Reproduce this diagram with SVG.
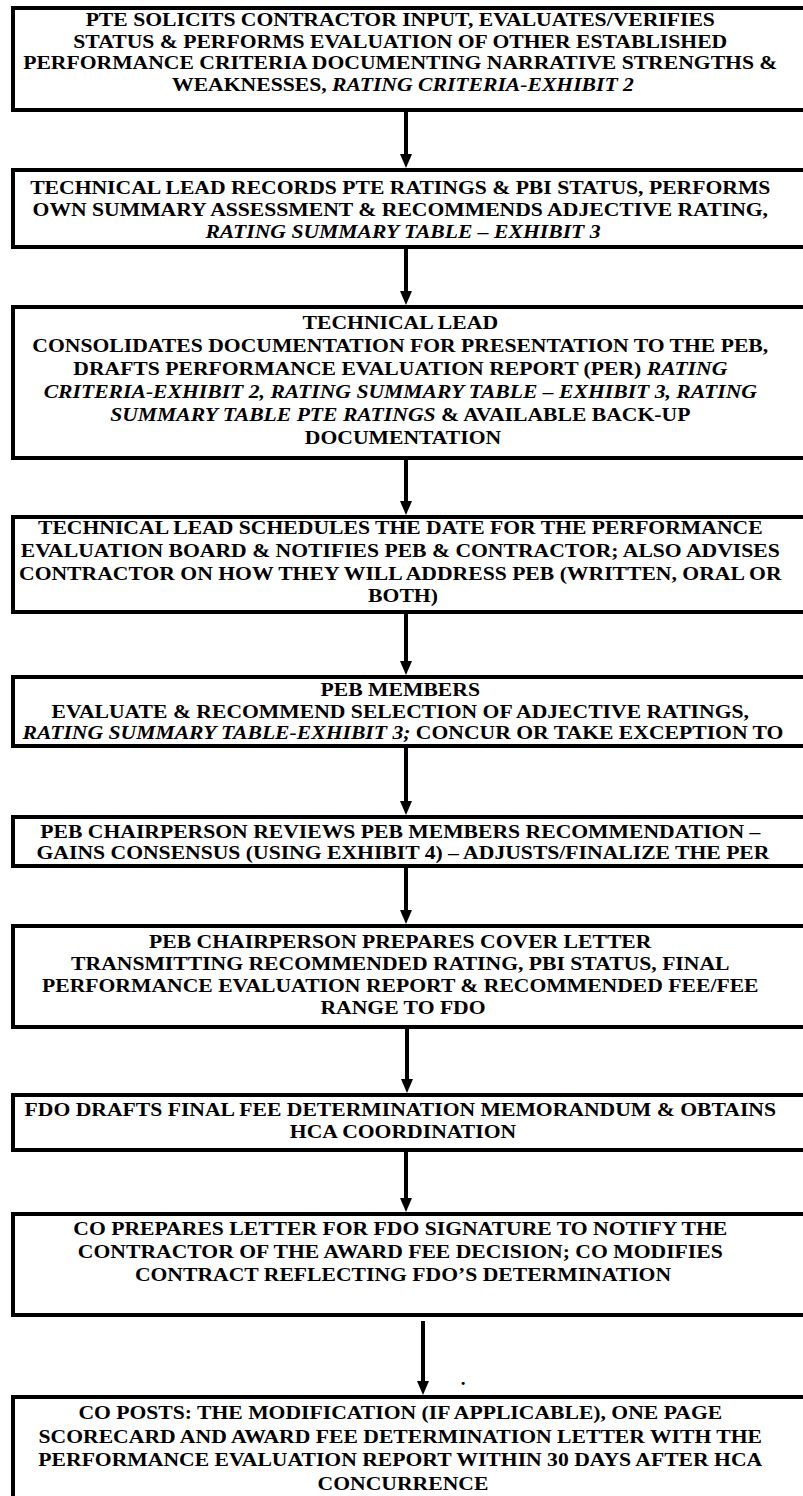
<svg xmlns="http://www.w3.org/2000/svg" width="803" height="1496" viewBox="0 0 803 1496">
<style>
.box{fill:#fff;stroke:#000;stroke-width:4}
.t{font-family:"Liberation Serif","Times New Roman",serif;font-weight:bold;font-size:19px;text-anchor:middle;fill:#000}
.i{font-style:italic}
.c line{stroke:#000;stroke-width:4}
</style>
<defs>
<marker id="ah" markerUnits="userSpaceOnUse" markerWidth="14" markerHeight="12" viewBox="0 0 14 12" refX="0" refY="6" orient="auto">
<path d="M0,0 L14,6 L0,12 z" fill="#000"/>
</marker>
</defs>
<rect width="803" height="1496" fill="#fff"/>
<g id="connectors" class="c">
<line x1="406" y1="110" x2="406" y2="154" marker-end="url(#ah)"/>
<line x1="406" y1="247" x2="406" y2="291" marker-end="url(#ah)"/>
<line x1="406" y1="458" x2="406" y2="501" marker-end="url(#ah)"/>
<line x1="406" y1="612" x2="406" y2="661" marker-end="url(#ah)"/>
<line x1="406" y1="746" x2="406" y2="801" marker-end="url(#ah)"/>
<line x1="406" y1="866" x2="406" y2="910" marker-end="url(#ah)"/>
<line x1="407" y1="1027" x2="407" y2="1079" marker-end="url(#ah)"/>
<line x1="406" y1="1150" x2="406" y2="1198" marker-end="url(#ah)"/>
<line x1="423" y1="1321" x2="423" y2="1381" marker-end="url(#ah)"/>
</g>
<g id="n1">
<rect class="box" x="13" y="8" width="800" height="102"/>
<text class="t" transform="translate(403,0) scale(1.14,1) translate(-403,0)">
<tspan x="403" y="26.5">PTE SOLICITS CONTRACTOR INPUT, EVALUATES/VERIFIES</tspan>
<tspan x="403" y="48">STATUS &amp; PERFORMS EVALUATION OF OTHER ESTABLISHED</tspan>
<tspan x="403" y="69.5">PERFORMANCE CRITERIA DOCUMENTING NARRATIVE STRENGTHS &amp;</tspan>
<tspan x="403" y="91">WEAKNESSES, <tspan class="i">RATING CRITERIA-EXHIBIT 2</tspan></tspan>
</text>
</g>
<g id="n2">
<rect class="box" x="13" y="170" width="800" height="77"/>
<text class="t" transform="translate(403,0) scale(1.14,1) translate(-403,0)">
<tspan x="403" y="194">TECHNICAL LEAD RECORDS PTE RATINGS &amp; PBI STATUS, PERFORMS</tspan>
<tspan x="403" y="216">OWN SUMMARY ASSESSMENT &amp; RECOMMENDS ADJECTIVE RATING,</tspan>
<tspan x="403" y="238" class="i">RATING SUMMARY TABLE – EXHIBIT 3</tspan>
</text>
</g>
<g id="n3">
<rect class="box" x="13" y="307" width="800" height="151"/>
<text class="t" transform="translate(403,0) scale(1.14,1) translate(-403,0)">
<tspan x="403" y="329">TECHNICAL LEAD</tspan>
<tspan x="403" y="352">CONSOLIDATES DOCUMENTATION FOR PRESENTATION TO THE PEB,</tspan>
<tspan x="403" y="375">DRAFTS PERFORMANCE EVALUATION REPORT (PER) <tspan class="i">RATING</tspan></tspan>
<tspan x="403" y="398" class="i">CRITERIA-EXHIBIT 2, RATING SUMMARY TABLE – EXHIBIT 3, RATING</tspan>
<tspan x="403" y="421"><tspan class="i">SUMMARY TABLE PTE RATINGS</tspan> &amp; AVAILABLE BACK-UP</tspan>
<tspan x="403" y="444">DOCUMENTATION</tspan>
</text>
</g>
<g id="n4">
<rect class="box" x="13" y="517" width="800" height="95"/>
<text class="t" transform="translate(403,0) scale(1.14,1) translate(-403,0)">
<tspan x="403" y="534">TECHNICAL LEAD SCHEDULES THE DATE FOR THE PERFORMANCE</tspan>
<tspan x="403" y="557">EVALUATION BOARD &amp; NOTIFIES PEB &amp; CONTRACTOR; ALSO ADVISES</tspan>
<tspan x="403" y="580">CONTRACTOR ON HOW THEY WILL ADDRESS PEB (WRITTEN, ORAL OR</tspan>
<tspan x="403" y="602">BOTH)</tspan>
</text>
</g>
<g id="n5">
<rect class="box" x="13" y="677" width="800" height="69"/>
<text class="t" transform="translate(403,0) scale(1.14,1) translate(-403,0)">
<tspan x="403" y="696">PEB MEMBERS</tspan>
<tspan x="403" y="718">EVALUATE &amp; RECOMMEND SELECTION OF ADJECTIVE RATINGS,</tspan>
<tspan x="403" y="739"><tspan class="i">RATING SUMMARY TABLE-EXHIBIT 3;</tspan> CONCUR OR TAKE EXCEPTION TO</tspan>
</text>
</g>
<g id="n6">
<rect class="box" x="13" y="817" width="800" height="49"/>
<text class="t" transform="translate(403,0) scale(1.14,1) translate(-403,0)">
<tspan x="403" y="838">PEB CHAIRPERSON REVIEWS PEB MEMBERS RECOMMENDATION –</tspan>
<tspan x="403" y="859">GAINS CONSENSUS (USING EXHIBIT 4) – ADJUSTS/FINALIZE THE PER</tspan>
</text>
</g>
<g id="n7">
<rect class="box" x="13" y="926" width="800" height="101"/>
<text class="t" transform="translate(403,0) scale(1.14,1) translate(-403,0)">
<tspan x="403" y="948">PEB CHAIRPERSON PREPARES COVER LETTER</tspan>
<tspan x="403" y="970">TRANSMITTING RECOMMENDED RATING, PBI STATUS, FINAL</tspan>
<tspan x="403" y="992">PERFORMANCE EVALUATION REPORT &amp; RECOMMENDED FEE/FEE</tspan>
<tspan x="403" y="1014">RANGE TO FDO</tspan>
</text>
</g>
<g id="n8">
<rect class="box" x="13" y="1095" width="800" height="55"/>
<text class="t" transform="translate(403,0) scale(1.14,1) translate(-403,0)">
<tspan x="403" y="1116">FDO DRAFTS FINAL FEE DETERMINATION MEMORANDUM &amp; OBTAINS</tspan>
<tspan x="403" y="1138">HCA COORDINATION</tspan>
</text>
</g>
<g id="n9">
<rect class="box" x="13" y="1214" width="800" height="101"/>
<text class="t" transform="translate(403,0) scale(1.14,1) translate(-403,0)">
<tspan x="403" y="1235">CO PREPARES LETTER FOR FDO SIGNATURE TO NOTIFY THE</tspan>
<tspan x="403" y="1258">CONTRACTOR OF THE AWARD FEE DECISION; CO MODIFIES</tspan>
<tspan x="403" y="1281">CONTRACT REFLECTING FDO’S DETERMINATION</tspan>
</text>
</g>
<text class="t" x="463" y="1385">.</text>
<g id="n10">
<rect class="box" x="13" y="1397" width="800" height="120"/>
<text class="t" transform="translate(403,0) scale(1.14,1) translate(-403,0)">
<tspan x="403" y="1419">CO POSTS: THE MODIFICATION (IF APPLICABLE), ONE PAGE</tspan>
<tspan x="403" y="1443">SCORECARD AND AWARD FEE DETERMINATION LETTER WITH THE</tspan>
<tspan x="403" y="1466">PERFORMANCE EVALUATION REPORT WITHIN 30 DAYS AFTER HCA</tspan>
<tspan x="403" y="1490">CONCURRENCE</tspan>
</text>
</g>
</svg>
